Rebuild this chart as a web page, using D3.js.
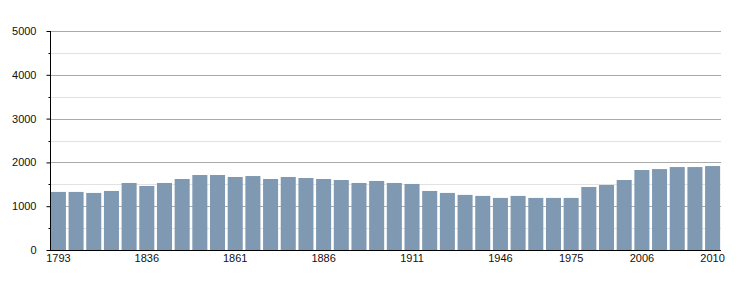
<!DOCTYPE html>
<html>
<head>
<meta charset="utf-8">
<script src="https://cdn.jsdelivr.net/npm/d3@7"></script>
<style>
  body { margin: 0; background: #fff; }
  svg text { font-family: "Liberation Sans", Arial, sans-serif; font-size: 11px; fill: #111; }
</style>
</head>
<body>
<svg id="chart" width="750" height="300"></svg>
<script>
// census years and population
const years = [1793, 1800, 1806, 1821, 1831, 1836, 1841, 1846, 1851, 1856,
               1861, 1866, 1872, 1876, 1881, 1886, 1891, 1896, 1901, 1906,
               1911, 1921, 1926, 1931, 1936, 1946, 1954, 1962, 1968, 1975,
               1982, 1990, 1999, 2006, 2007, 2008, 2009, 2010];
const population = [1326, 1326, 1303, 1348, 1530, 1462, 1530, 1621, 1712, 1712,
                    1667, 1689, 1621, 1667, 1644, 1621, 1598, 1530, 1576, 1530,
                    1508, 1348, 1303, 1258, 1235, 1189, 1235, 1189, 1189, 1189,
                    1439, 1485, 1598, 1826, 1848, 1894, 1894, 1917];
const xLabels = [1793, 1836, 1861, 1886, 1911, 1946, 1975, 2006, 2010];
const yMajor = [0, 1000, 2000, 3000, 4000, 5000];
const yMinor = [500, 1500, 2500, 3500, 4500];

let chart = d3.select("#chart");
const mLeft = 50, mRight = 721, mTop = 31, mBottom = 250;

let data = years.map((y, i) => ({year: y, pop: population[i]}));

let xScale = d3.scaleBand()
    .domain(years)
    .range([mLeft, mRight])
    .paddingInner(0.15)
    .paddingOuter(0.05);

let yScale = d3.scaleLinear()
    .domain([0, 5000])
    .range([mBottom, mTop]);

// grid lines
chart.append("g").selectAll("line")
    .data(yMinor).enter()
    .append("line")
        .attr("x1", mLeft).attr("x2", mRight)
        .attr("y1", d => Math.round(yScale(d)) + 0.5)
        .attr("y2", d => Math.round(yScale(d)) + 0.5)
        .attr("stroke", "#e2e2e2");

chart.append("g").selectAll("line")
    .data(yMajor.slice(1)).enter()
    .append("line")
        .attr("x1", mLeft).attr("x2", mRight)
        .attr("y1", d => Math.round(yScale(d)) + 0.5)
        .attr("y2", d => Math.round(yScale(d)) + 0.5)
        .attr("stroke", "#aaaaaa");

// bars
chart.append("g").selectAll("rect")
    .data(data).enter()
    .append("rect")
        .attr("x", d => xScale(d.year))
        .attr("y", d => yScale(d.pop))
        .attr("width", xScale.bandwidth())
        .attr("height", d => mBottom - yScale(d.pop))
        .attr("fill", "#7f99b2");

// y axis
let yAxis = chart.append("g")
    .attr("transform", "translate(" + (mLeft + 0.5) + ",0)")
    .call(d3.axisLeft(yScale).tickValues(yMajor).tickSize(4).tickPadding(10).tickFormat(d3.format("d")));
yAxis.select(".domain").attr("stroke", "#000").attr("d", "M0," + mTop + "V" + mBottom);
yAxis.selectAll(".tick line").attr("stroke", "#000");

chart.append("g")
    .attr("transform", "translate(" + (mLeft + 0.5) + ",0)")
    .selectAll("line")
    .data(yMinor).enter()
    .append("line")
        .attr("x1", -2).attr("x2", 0)
        .attr("y1", d => Math.round(yScale(d)) + 0.5)
        .attr("y2", d => Math.round(yScale(d)) + 0.5)
        .attr("stroke", "#000");

// x axis
let xAxis = chart.append("g")
    .attr("transform", "translate(0," + (mBottom + 0.5) + ")")
    .call(d3.axisBottom(xScale).tickValues(xLabels).tickSize(0).tickPadding(4));
xAxis.select(".domain").attr("stroke", "#000").attr("d", "M" + mLeft + ",0H" + mRight);

chart.selectAll(".tick text").style("font-family", "'Liberation Sans', Arial, sans-serif").style("font-size", "11px").attr("fill", "#111");
</script>
</body>
</html>
